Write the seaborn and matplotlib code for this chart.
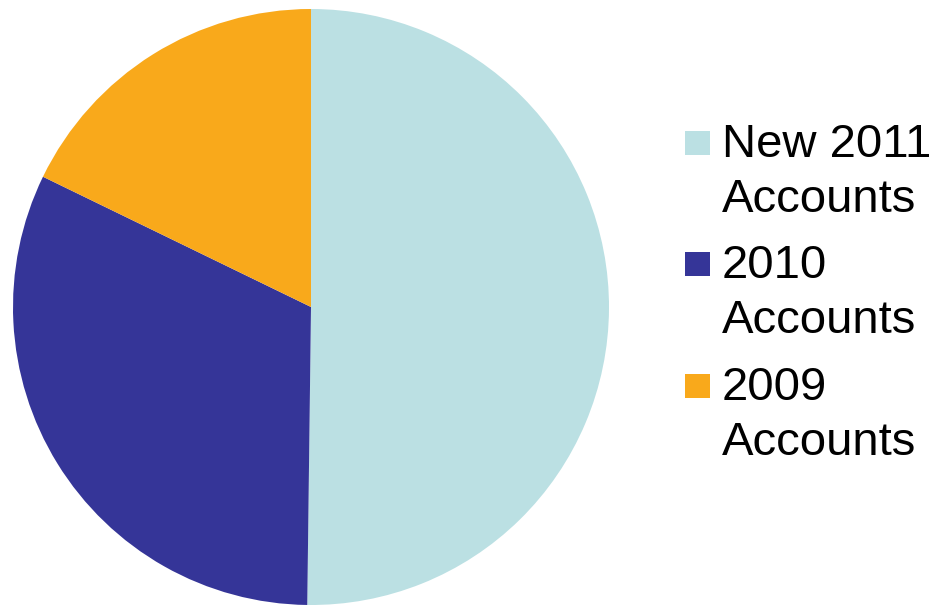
import matplotlib
matplotlib.use("Agg")
import matplotlib.pyplot as plt
from matplotlib.patches import Rectangle
import seaborn as sns

sns.set_theme(style="white")
plt.rcParams['font.family'] = ['Liberation Sans', 'DejaVu Sans']

categories = ["New 2011\nAccounts", "2010\nAccounts", "2009\nAccounts"]
values = [50.2, 32.0, 17.8]
colors = ["#BBE0E3", "#353598", "#F9A91B"]

W, H = 934, 605
fig = plt.figure(figsize=(W / 100, H / 100), dpi=100)
fig.patch.set_facecolor("white")

ax = fig.add_axes([13 / W, 0 / H, 596 / W, 596 / H])
ax.pie(values, colors=colors, startangle=90, counterclock=False, radius=1,
       wedgeprops=dict(linewidth=0))
ax.set_xlim(-1, 1)
ax.set_ylim(-1, 1)
ax.set_aspect("equal")
ax.axis("off")

# legend (manual, marker aligned with first line)
baselines = [157, 278, 400]
line_gap = 55
for lab, col, b in zip(categories, colors, baselines):
    fig.patches.append(Rectangle((685 / W, 1 - (b - 2) / H), 25 / W, 24 / H,
                                 transform=fig.transFigure, facecolor=col,
                                 edgecolor="none"))
    for i, line in enumerate(lab.split("\n")):
        fig.text(722 / W, 1 - (b + i * line_gap) / H, line, fontsize=34,
                 color="black", ha="left", va="baseline")

fig.savefig("out.png", dpi=100, facecolor="white")
